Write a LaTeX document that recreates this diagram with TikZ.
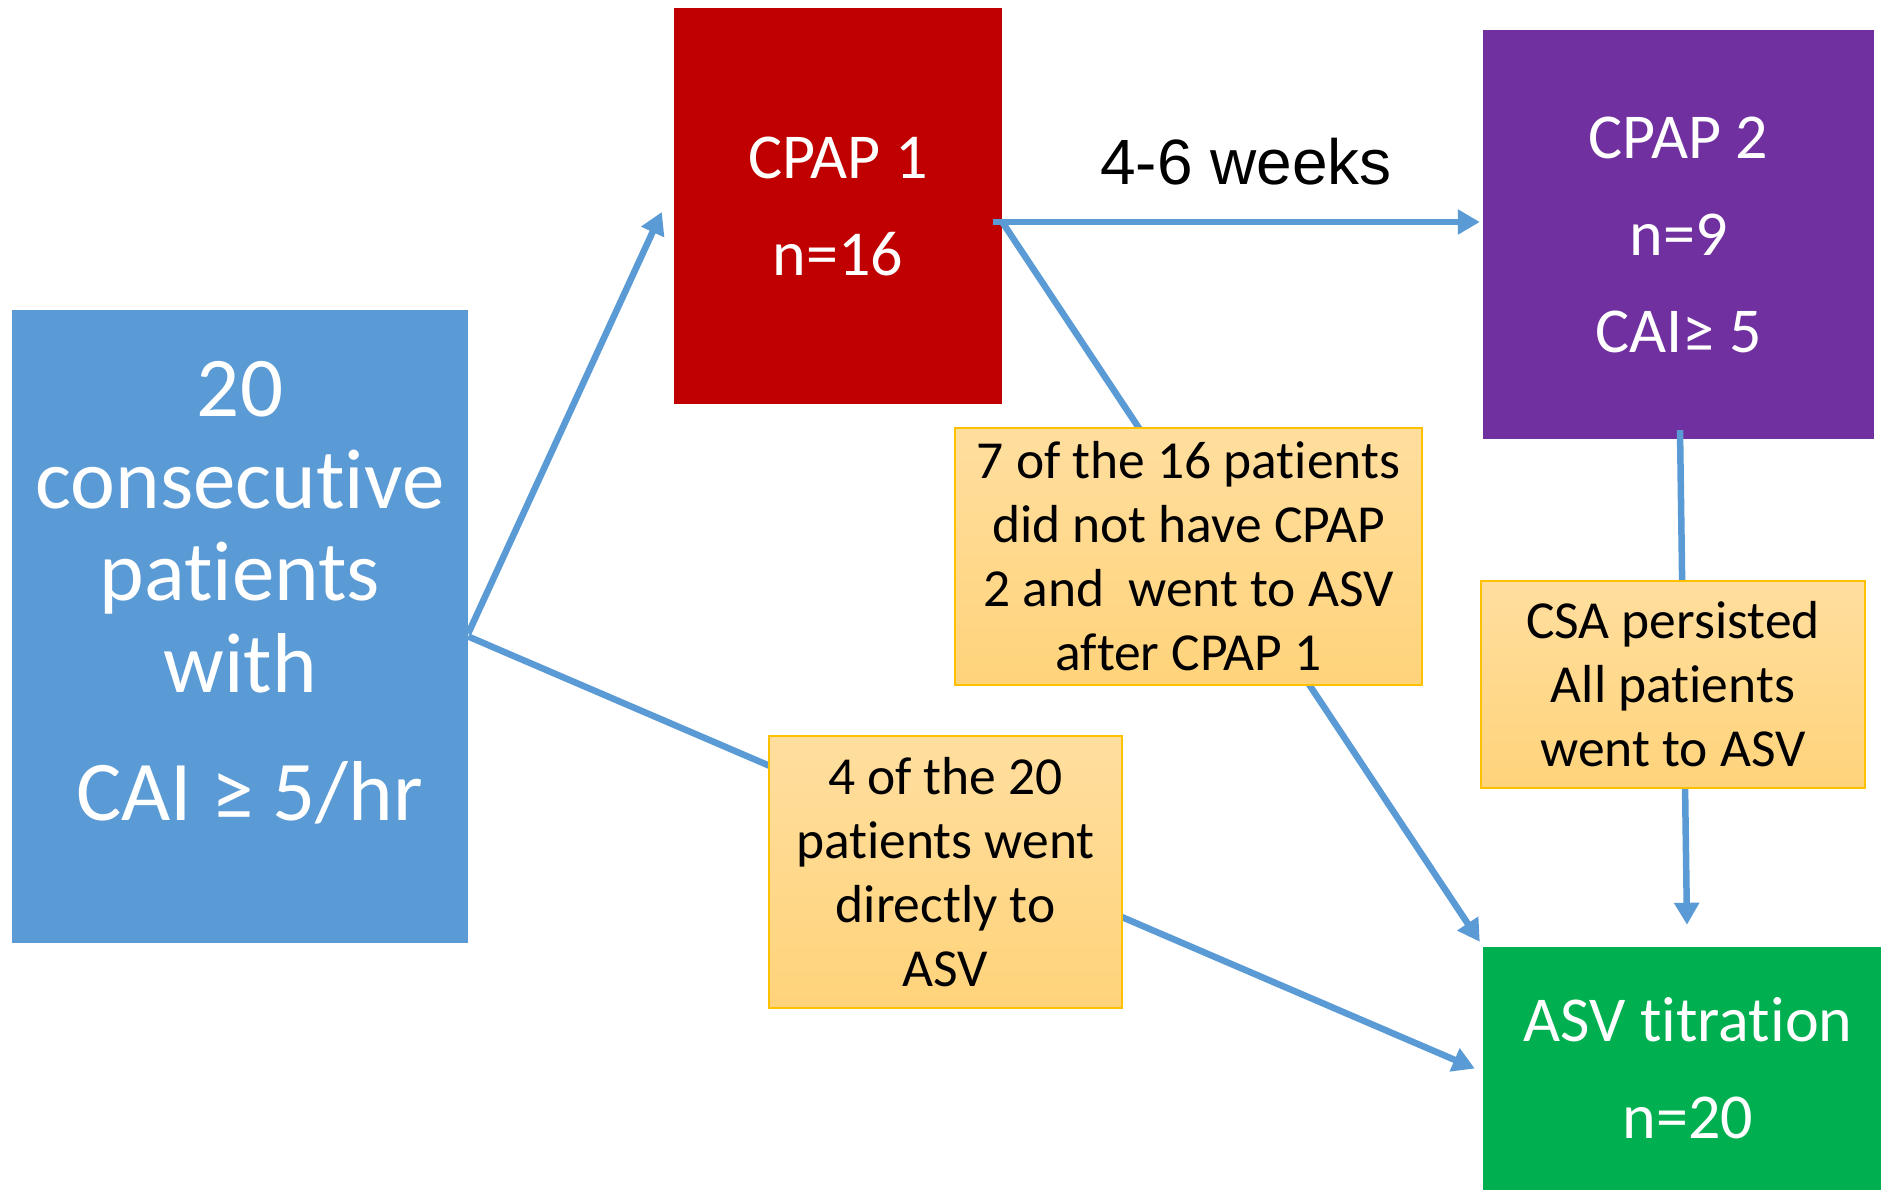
\documentclass[tikz,border=0pt]{standalone}
\usepackage{fontspec}
\setmainfont{Carlito}[Ligatures=NoCommon]
\newfontfamily\weeksfont{Liberation Sans}
\usetikzlibrary{arrows.meta,positioning,calc}
\definecolor{cohortblue}{HTML}{5B9BD5}
\definecolor{cpapred}{HTML}{C00000}
\definecolor{cpappurple}{HTML}{7030A0}
\definecolor{asvgreen}{HTML}{00B050}
\definecolor{notetop}{HTML}{FFDE9E}
\definecolor{notebot}{HTML}{FFD37A}
\definecolor{noteedge}{HTML}{FFC000}

\begin{document}
\begin{tikzpicture}[
  x=1pt,y=-1pt,
  box/.style={inner sep=0pt,align=center,text=white,font=\fontsize{64}{97}\selectfont},
  note/.style={draw=noteedge,line width=2pt,top color=notetop,bottom color=notebot,
               inner sep=0pt,align=center,font=\fontsize{53.5}{64}\selectfont},
  arr/.style={-{Triangle[length=22pt,width=24pt]},draw=cohortblue,line width=6.5pt}
]
  \fill[white] (0,0) rectangle (1881,1190);
  \useasboundingbox (0,0) rectangle (1881,1190);
  \node[box,fill=cohortblue,minimum width=456pt,minimum height=633pt,
        font=\fontsize{85}{92}\selectfont] (cohort) at (240,626.5)
        {20\\consecutive\\patients\\with\\[36pt]\ CAI ≥ 5/hr\\[-20pt]\mbox{}};
  \node[box,fill=cpapred,minimum width=328pt,minimum height=396pt] (cpap1) at (838,206) {CPAP 1\\n=16};
  \node[box,fill=cpappurple,minimum width=391pt,minimum height=409pt] (cpap2) at (1678.5,234.5) {CPAP 2\\n=9\\CAI≥ 5};
  \node[box,fill=asvgreen,minimum width=410pt,minimum height=243pt] (asv) at (1688,1068.5) {ASV titration\\n=20};
  \node[font=\weeksfont\fontsize{64}{70}\selectfont] (weeks) at (1246,162) {4-6 weeks};
  % connectors first, the notes sit on top of them
  \draw[arr] ([yshift=-7pt]cohort.east) -- ([xshift=-12pt,yshift=-6pt]cpap1.west);
  \draw[arr] ([yshift=-10pt]cohort.east) -- ([xshift=-8pt]asv.west);
  \draw[arr] ($(cpap1.east)+(-9,16)$) -- ($(cpap1.east -| cpap2.west)+(-3,16)$);
  \draw[arr] ($(cpap1.east)+(0,16)$) -- ($(asv.north west)+(-3,-5)$);
  \draw[arr] ($(cpap2.south)+(1.5,-9)$) -- ($(asv.north)+(-1,-22)$);
  \node[note,minimum width=467pt,minimum height=257pt] (skipped) at (1188.5,556.5)
        {7 of the 16 patients\\did not have CPAP\\2 and\ \ went to ASV\\after CPAP 1};
  \node[note,minimum width=384pt,minimum height=207pt] (persisted) at (1673,684.5)
        {CSA persisted\\All patients\\went to ASV};
  \node[note,minimum width=353pt,minimum height=272pt] (direct) at (945.5,872)
        {4 of the 20\\patients went\\directly to\\ASV};
\end{tikzpicture}
\end{document}
